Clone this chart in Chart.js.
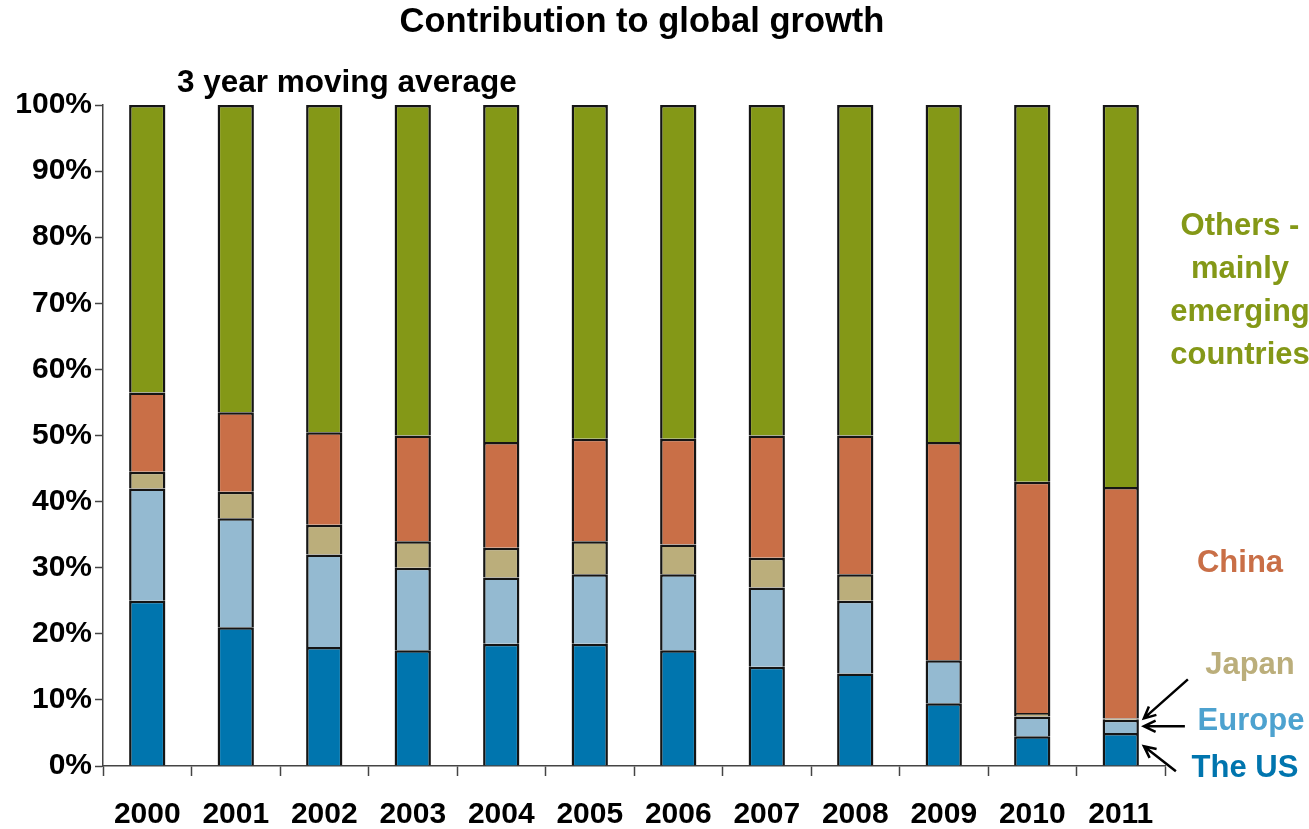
<!DOCTYPE html>
<html>
<head>
<meta charset="utf-8">
<title>Contribution to global growth</title>
<script src="https://cdn.jsdelivr.net/npm/chart.js@4.4.1/dist/chart.umd.min.js"></script>
<style>
    html, body { margin: 0; padding: 0; background: #fff; }
    #wrap { width: 1309px; height: 829px; position: relative; }
</style>
</head>
<body>
<div id="wrap"><canvas id="myChart"></canvas></div>
<script>
// share of world growth, % (3 year moving average)
const years = ["2000", "2001", "2002", "2003", "2004", "2005", "2006", "2007", "2008", "2009", "2010", "2011"];
const usShare     = [25,   21,   18,   17.5, 18.5, 18.5, 17.5, 15,   14,   9.5, 4.5, 5];
const europeShare = [17,   16.5, 14,   12.5, 10,   10.5, 11.5, 12,   11,   6.5, 3,   2];
const japanShare  = [2.5,  4,    4.5,  4,    4.5,  5,    4.5,  4.5,  4,    0,   0.5, 0.2];
const chinaShare  = [12,   12,   14,   16,   16,   15.5, 16,   18.5, 21,   33,  35,  35];
const othersShare = [43.5, 46.5, 49.5, 50,   51,   50.5, 50.5, 50,   50,   51,  57,  57.8];
const yTicks = [0, 10, 20, 30, 40, 50, 60, 70, 80, 90, 100];

const FONT = "'Liberation Sans', Arial, sans-serif";

const colors = {
    us: "#0075ae",
    europe: "#94bad1",
    japan: "#bbae7b",
    china: "#c96f47",
    others: "#849817"
};

function series(label, data, color) {
    return {
        label: label,
        data: data,
        backgroundColor: color,
        borderColor: "#151515",
        borderWidth: 2.5,
        borderSkipped: "start",
        inflateAmount: 0,
        categoryPercentage: 1,
        barPercentage: 0.41
    };
}

// titles, side labels and arrows
const annotate = {
    id: "annotate",
    afterDraw(chart) {
        const ctx = chart.ctx;
        const y = chart.scales.y;
        const area = chart.chartArea;

        ctx.save();
        ctx.fillStyle = "#000";
        ctx.textBaseline = "middle";
        ctx.font = "bold 34.5px " + FONT;
        ctx.textAlign = "center";
        ctx.fillText("Contribution to global growth", 642, 22);
        ctx.textAlign = "left";
        ctx.font = "bold 31.5px " + FONT;
        ctx.fillText("3 year moving average", 177, 83);

        const lx = area.right + 75;
        ctx.font = "bold 31px " + FONT;
        ctx.textAlign = "center";
        ctx.fillStyle = colors.others;
        ["Others -", "mainly", "emerging", "countries"].forEach((t, i) => {
            ctx.fillText(t, lx, 226 + i * 43);
        });
        ctx.fillStyle = colors.china;
        ctx.fillText("China", lx, 563);
        ctx.fillStyle = colors.japan;
        ctx.fillText("Japan", lx + 10, 665);
        ctx.fillStyle = "#4da2cf";
        ctx.fillText("Europe", lx + 11, 721);
        ctx.fillStyle = colors.us;
        ctx.fillText("The US", lx + 5, 768);

        // arrows point at the last bar
        const last = years.length - 1;
        const bar = chart.getDatasetMeta(0).data[last];
        const tipX = bar.x + bar.width / 2 + 5;
        const usTop = usShare[last];
        const euTop = usTop + europeShare[last];
        const jpTop = euTop + japanShare[last];

        function arrow(x0, y0, x1, y1) {
            const a = Math.atan2(y1 - y0, x1 - x0);
            const h = 13;
            ctx.beginPath();
            ctx.moveTo(x0, y0);
            ctx.lineTo(x1, y1);
            ctx.moveTo(x1 - h * Math.cos(a - 0.45), y1 - h * Math.sin(a - 0.45));
            ctx.lineTo(x1, y1);
            ctx.lineTo(x1 - h * Math.cos(a + 0.45), y1 - h * Math.sin(a + 0.45));
            ctx.stroke();
        }

        ctx.strokeStyle = "#000";
        ctx.lineWidth = 2.5;
        const jpY = y.getPixelForValue(jpTop);
        arrow(tipX + 44, jpY - 39, tipX, jpY);
        const euY = y.getPixelForValue((usTop + euTop) / 2);
        arrow(tipX + 41, euY, tipX, euY);
        const usY = y.getPixelForValue(usTop * 0.6);
        arrow(tipX + 32, usY + 25, tipX, usY);
        ctx.restore();
    }
};

const chart = new Chart(document.getElementById("myChart"), {
    type: "bar",
    data: {
        labels: years,
        datasets: [
            series("The US", usShare, colors.us),
            series("Europe", europeShare, colors.europe),
            series("Japan", japanShare, colors.japan),
            series("China", chinaShare, colors.china),
            series("Others - mainly emerging countries", othersShare, colors.others)
        ]
    },
    options: {
        responsive: true,
        maintainAspectRatio: false,
        animation: false,
        layout: {
            padding: { top: 105, right: 144, bottom: 0, left: 0 }
        },
        plugins: {
            legend: { display: false },
            title: { display: false },
            tooltip: { enabled: false }
        },
        scales: {
            x: {
                stacked: true,
                grid: {
                    display: true,
                    drawOnChartArea: false,
                    offset: true,
                    tickLength: 10,
                    tickColor: "#444",
                    tickWidth: 1.5
                },
                border: { display: true, color: "#444", width: 1.5 },
                ticks: {
                    color: "#000",
                    padding: 21,
                    maxRotation: 0,
                    font: { family: FONT, size: 30, weight: "bold" }
                },
                afterFit(scale) { scale.height = 63; }
            },
            y: {
                stacked: true,
                min: 0,
                max: 100,
                afterBuildTicks(scale) {
                    scale.ticks = yTicks.map(v => ({ value: v }));
                },
                grid: {
                    display: true,
                    drawOnChartArea: false,
                    tickLength: 8,
                    tickColor: "#444",
                    tickWidth: 1.5
                },
                border: { display: true, color: "#444", width: 1.5 },
                ticks: {
                    color: "#000",
                    padding: 3,
                    callback: v => v + "%",
                    font: { family: FONT, size: 30, weight: "bold" }
                },
                afterFit(scale) { scale.width = 103; }
            }
        }
    },
    plugins: [annotate]
});
</script>
</body>
</html>
